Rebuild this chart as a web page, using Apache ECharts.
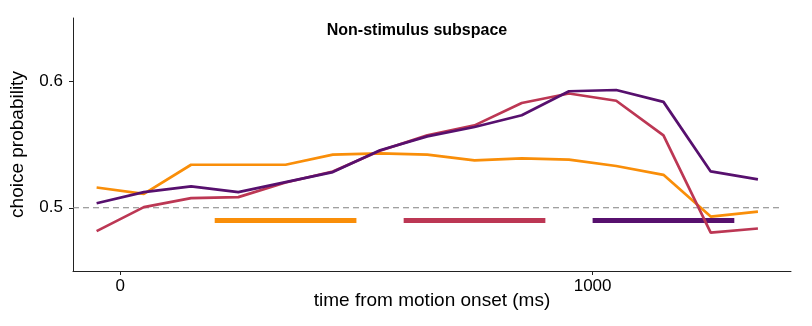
<!DOCTYPE html>
<html><head><meta charset="utf-8">
<script src="https://cdn.jsdelivr.net/npm/echarts@6/dist/echarts.min.js"></script>
<style>html,body{margin:0;padding:0;background:#fff}#c{width:812px;height:326px}</style>
</head><body><div id="c"></div>
<script>
const times = [-50, 50, 150, 250, 350, 450, 550, 650, 750, 850, 950, 1050, 1150, 1250, 1350];
const orangeVals = [0.516, 0.511, 0.534, 0.534, 0.534, 0.542, 0.543, 0.542, 0.5375, 0.539, 0.538, 0.533, 0.526, 0.493, 0.497];
const redVals = [0.4815, 0.5005, 0.5076, 0.5084, 0.520, 0.5287, 0.545, 0.5572, 0.5651, 0.5828, 0.5903, 0.5846, 0.5572, 0.4804, 0.4836];
const purpleVals = [0.5036, 0.5124, 0.5169, 0.5124, 0.5203, 0.5282, 0.5454, 0.5564, 0.5638, 0.5731, 0.5921, 0.5931, 0.5837, 0.5287, 0.5224];
const sigOrange = [200, 500];
const sigRed = [600, 900];
const sigPurple = [1000, 1300];
const sigLevel = 0.49;
const chanceLevel = 0.5;
const chanceSpan = [-100, 1400];
const xTicks = [0, 1000];
const yTicks = [0.5, 0.6];

const COL = {orange: '#f98e09', red: '#bc3754', purple: '#57106e'};
const pair = (xs, ys) => xs.map((x, i) => [x, ys[i]]);
const lineS = (vals, c) => ({type: 'line', data: pair(times, vals), symbol: 'none', lineStyle: {color: c, width: 2.7}, z: 3, silent: true});
const barS = (span, c) => ({type: 'line', data: [[span[0], sigLevel], [span[1], sigLevel]], symbol: 'none', lineStyle: {color: c, width: 5, cap: 'butt'}, z: 2, silent: true});

const chart = echarts.init(document.getElementById('c'), null, {renderer: 'canvas'});
chart.setOption({
  animation: false,
  title: {text: 'Non-stimulus subspace', left: 412, top: 18, textAlign: 'center',
    textStyle: {fontFamily: 'Liberation Sans', fontSize: 16, fontWeight: 'bold', color: '#000'}},
  grid: {left: 72, right: 21, top: 18, bottom: 55},
  xAxis: {type: 'value', min: -100, max: 1420,
    name: 'time from motion onset (ms)', nameLocation: 'middle', nameGap: 20, nameMoveOverlap: false,
    nameTextStyle: {fontFamily: 'Liberation Sans', fontSize: 19, color: '#000'},
    axisLine: {onZero: false, lineStyle: {color: '#222', width: 1}},
    axisTick: {show: true, length: 4, customValues: xTicks, lineStyle: {color: '#222'}},
    axisLabel: {customValues: xTicks, fontFamily: 'Liberation Sans', fontSize: 17, color: '#000', margin: 7,
      formatter: v => String(v)},
    splitLine: {show: false}},
  yAxis: {type: 'value', min: 0.45, max: 0.65,
    name: 'choice probability', nameLocation: 'middle', nameGap: 46, nameMoveOverlap: false,
    nameTextStyle: {fontFamily: 'Liberation Sans', fontSize: 19, color: '#000'},
    axisLine: {show: true, onZero: false, lineStyle: {color: '#222', width: 1}},
    axisTick: {show: true, length: 4, customValues: yTicks, lineStyle: {color: '#222'}},
    axisLabel: {customValues: yTicks, fontFamily: 'Liberation Sans', fontSize: 17, color: '#000', margin: 10,
      formatter: v => v.toFixed(1)},
    splitLine: {show: false}},
  series: [
    {type: 'line', data: [[chanceSpan[0], chanceLevel], [chanceSpan[1], chanceLevel]], symbol: 'none',
      lineStyle: {color: '#808080', width: 1, type: [6, 4]}, z: 1, silent: true},
    barS(sigOrange, COL.orange), barS(sigRed, COL.red), barS(sigPurple, COL.purple),
    lineS(orangeVals, COL.orange), lineS(redVals, COL.red), lineS(purpleVals, COL.purple)
  ]
});
</script></body></html>
